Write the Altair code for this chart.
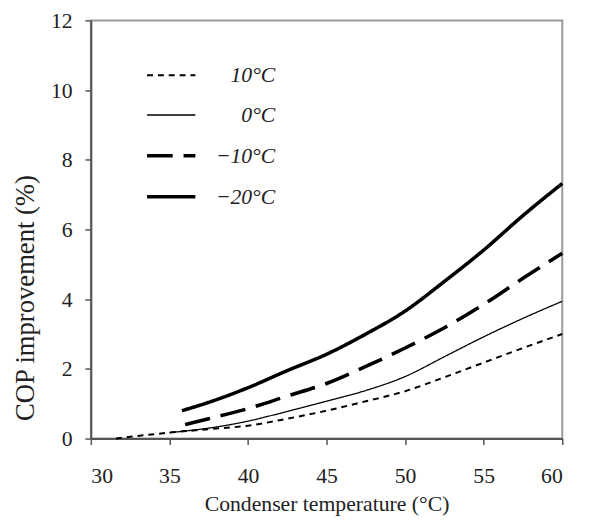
import altair as alt
import pandas as pd

series_names = ["10°C", "0°C", "−10°C", "−20°C"]

x_10 = [31.6, 32.5, 35, 37.5, 40, 42.5, 45, 47.5, 50, 52.5, 55, 57.5, 60]
y_10 = [0.0, 0.05, 0.17, 0.27, 0.37, 0.57, 0.80, 1.07, 1.36, 1.76, 2.18, 2.60, 3.0]

x_0 = [35, 37.5, 40, 42.5, 45, 47.5, 50, 52.5, 55, 57.5, 60]
y_0 = [0.17, 0.30, 0.50, 0.78, 1.07, 1.38, 1.78, 2.35, 2.92, 3.45, 3.94]

x_m10 = [36, 37.5, 40, 42.5, 45, 47.5, 50, 52.5, 55, 57.5, 60]
y_m10 = [0.40, 0.57, 0.86, 1.22, 1.58, 2.07, 2.60, 3.18, 3.85, 4.60, 5.32]

x_m20 = [35.8, 37.5, 40, 42.5, 45, 47.5, 50, 52.5, 55, 57.5, 60]
y_m20 = [0.80, 1.04, 1.46, 1.95, 2.42, 3.00, 3.66, 4.51, 5.41, 6.40, 7.32]

rows = []
for name, xs, ys in zip(series_names, [x_10, x_0, x_m10, x_m20], [y_10, y_0, y_m10, y_m20]):
    for xv, yv in zip(xs, ys):
        rows.append({"series": name, "x": xv, "y": yv})
df = pd.DataFrame(rows)

FONT = "Liberation Serif, Times New Roman, serif"

legend_cfg = dict(title=None, orient="none", legendX=55, legendY=30,
                  symbolType="stroke", symbolSize=2401,
                  labelAlign="right", labelOffset=79,
                  labelFont=FONT, labelFontStyle="italic",
                  labelFontSize=22, labelColor="#222",
                  rowPadding=3.4, padding=0,
                  symbolStrokeColor="black")

chart = alt.Chart(df).mark_line(interpolate="monotone", color="black").encode(
    x=alt.X("x:Q", scale=alt.Scale(domain=[30, 60], nice=False),
            axis=alt.Axis(values=[30, 35, 40, 45, 50, 55, 60], title="Condenser temperature (°C)",
                          titleY=73, titleBaseline="alphabetic", labelPadding=22)),
    y=alt.Y("y:Q", scale=alt.Scale(domain=[0, 12], nice=False),
            axis=alt.Axis(values=[0, 2, 4, 6, 8, 10, 12], title="COP improvement (%)",
                          titleX=-66, titleY=281, titleAngle=-90, titleAlign="center",
                          titleBaseline="middle", labelPadding=13, titleFontSize=27)),
    detail="series:N",
    strokeDash=alt.StrokeDash("series:N", sort=series_names,
                              scale=alt.Scale(type="ordinal", domain=series_names,
                                              range=[[6, 5], [1, 0], [26, 11], [1, 0]]),
                              legend=alt.Legend(**legend_cfg)),
    strokeWidth=alt.StrokeWidth("series:N", sort=series_names,
                                scale=alt.Scale(type="ordinal", domain=series_names,
                                                range=[2, 1.3, 3.6, 3.6]),
                                legend=alt.Legend(**legend_cfg)),
).properties(
    width=478, height=424,
    autosize=alt.AutoSizeParams(type="none"),
    padding={"left": 84, "top": 9, "right": 19, "bottom": 81},
).configure_axis(
    grid=False, labelFont=FONT, titleFont=FONT, labelFontSize=22, titleFontSize=22,
    titleFontWeight="normal", labelColor="#222", titleColor="#222",
    domainColor="#555", domainWidth=2, tickColor="#555", tickWidth=1.5, tickSize=6,
).configure_view(
    stroke="#999", strokeWidth=2
)

chart.save("out.html", embed_options={"renderer": "svg", "actions": False})
